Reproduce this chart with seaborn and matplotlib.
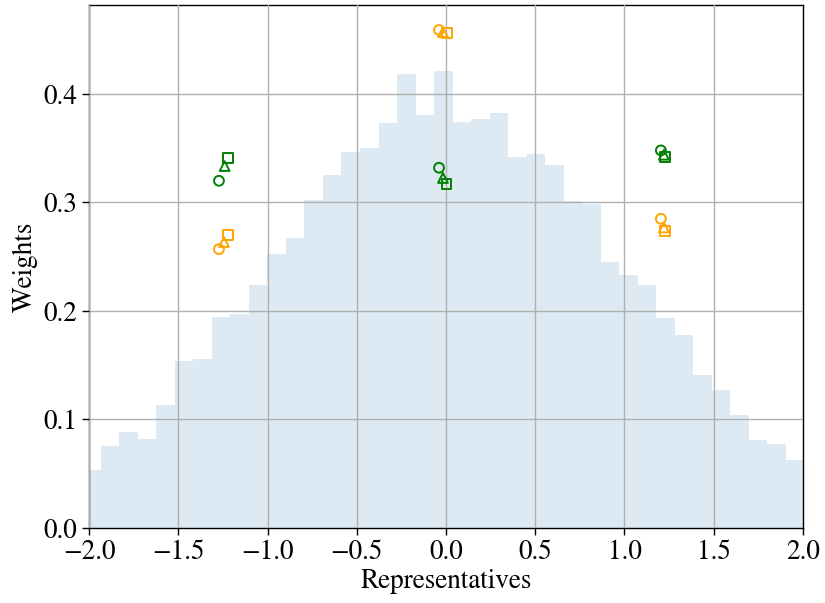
import numpy as np
import pandas as pd
import matplotlib
matplotlib.use("Agg")
import matplotlib.pyplot as plt
import seaborn as sns

# Histogram of the underlying distribution (heights per bin)
bin_start = -2.037
bin_width = 0.10368
hist_heights = [0.0531, 0.0754, 0.0881, 0.0820, 0.1129, 0.1542, 0.1558, 0.1949,
                0.1971, 0.2242, 0.2528, 0.2671, 0.3027, 0.3250, 0.3466, 0.3498,
                0.3733, 0.4188, 0.3803, 0.4216, 0.3742, 0.3768, 0.3822, 0.3421,
                0.3444, 0.3342, 0.3018, 0.2989, 0.2448, 0.2334, 0.2238, 0.1933,
                0.1781, 0.1412, 0.1272, 0.1043, 0.0811, 0.0773, 0.0626]

# Representatives and their weights, per method
green_circle_x = [-1.272, -0.039, 1.204]
green_circle_w = [0.320, 0.332, 0.348]
green_tri_x = [-1.240, -0.017, 1.221]
green_tri_w = [0.3336, 0.3226, 0.344]
green_sq_x = [-1.221, 0.003, 1.227]
green_sq_w = [0.341, 0.317, 0.342]

orange_circle_x = [-1.272, -0.039, 1.204]
orange_circle_w = [0.257, 0.459, 0.285]
orange_tri_x = [-1.244, -0.017, 1.221]
orange_tri_w = [0.2636, 0.457, 0.277]
orange_sq_x = [-1.221, 0.006, 1.227]
orange_sq_w = [0.270, 0.456, 0.274]

FS = 19.5

sns.set_style("ticks")
plt.rcParams["font.family"] = ["STIXGeneral", "Liberation Serif", "DejaVu Serif"]
plt.rcParams["mathtext.fontset"] = "stix"
plt.rcParams["font.size"] = FS
plt.rcParams["axes.unicode_minus"] = True
plt.rcParams["text.color"] = "black"
plt.rcParams["axes.labelcolor"] = "black"
plt.rcParams["xtick.color"] = "black"
plt.rcParams["ytick.color"] = "black"

fig, ax = plt.subplots(figsize=(8.25, 6.03), dpi=100)
fig.subplots_adjust(left=0.1079, right=0.9733, top=0.9917, bottom=0.1244)

n_bins = len(hist_heights)
bin_end = bin_start + bin_width * n_bins
centers = [bin_start + bin_width * (i + 0.5) for i in range(n_bins)]
hist_df = pd.DataFrame({"x": centers, "h": hist_heights})
sns.histplot(data=hist_df, x="x", weights="h", bins=n_bins,
             binrange=(bin_start, bin_end), stat="count",
             color="#1f77b4", alpha=0.15, linewidth=0, ax=ax)

groups = [
    (green_circle_x, green_circle_w, "o", "green"),
    (green_tri_x, green_tri_w, "^", "green"),
    (green_sq_x, green_sq_w, "s", "green"),
    (orange_circle_x, orange_circle_w, "o", "orange"),
    (orange_tri_x, orange_tri_w, "^", "orange"),
    (orange_sq_x, orange_sq_w, "s", "orange"),
]
for xs, ws, mk, col in groups:
    sns.scatterplot(x=xs, y=ws, marker=mk, s=50, facecolors="none",
                    edgecolor=col, linewidth=1.4, ax=ax, zorder=3)

ax.set_xlim(-2, 2)
ax.set_ylim(0, 0.482)
ax.set_xticks([-2.0, -1.5, -1.0, -0.5, 0.0, 0.5, 1.0, 1.5, 2.0])
ax.set_yticks([0.0, 0.1, 0.2, 0.3, 0.4])
ax.grid(True, color="#b0b0b0", linewidth=1.0)
ax.set_axisbelow(False)
for sp in ax.spines.values():
    sp.set_visible(True)
    sp.set_color("black")
    sp.set_linewidth(1.0)
ax.tick_params(direction="out", length=5, width=1, pad=3.5,
               colors="black", labelcolor="black", labelsize=FS)
ax.set_xlabel("Representatives", fontsize=FS, labelpad=3, color="black")
ax.set_ylabel("Weights", fontsize=FS, labelpad=4, color="black")

fig.savefig("out.png", dpi=100)
